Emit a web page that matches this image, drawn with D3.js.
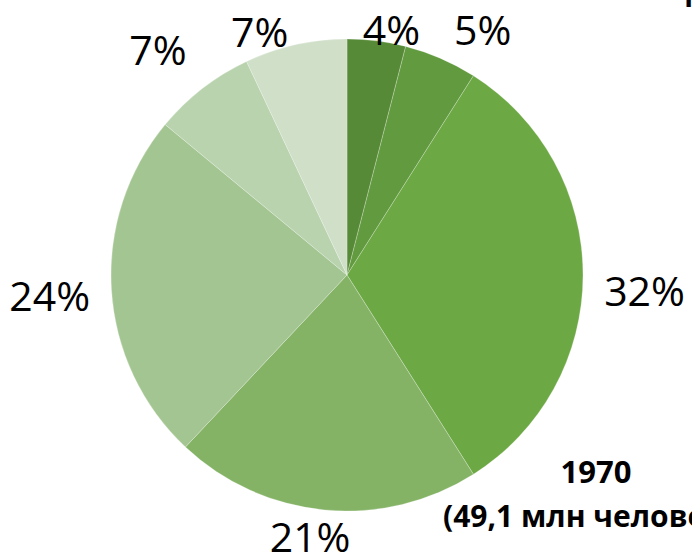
<!DOCTYPE html>
<html>
<head>
<meta charset="utf-8">
<script src="https://cdn.jsdelivr.net/npm/d3@7"></script>
<style>
  body { margin: 0; background: #fff; overflow: hidden; }
  svg { display: block; }
</style>
</head>
<body>
<svg width="692" height="559"></svg>
<script>
// shares of population by group, 1970 (clockwise from 12 o'clock)
const groups = ['g1', 'g2', 'g3', 'g4', 'g5', 'g6', 'g7'];
const shares = [4, 5, 32, 21, 24, 7, 7];
const sliceColors = ['#578a37', '#629a3f', '#6ca843', '#84b366', '#a3c591', '#b8d3ad', '#cfdfc8'];
const yearLabel = '1970';
const totalLabel = '(49,1 млн человек)';

const svg = d3.select('svg');
const width = +svg.attr('width');
const height = +svg.attr('height');

const cx = 347, cy = 275, radius = 236;

const g = svg.append('g')
  .attr('transform', `translate(${cx},${cy})`);

const data = groups.map((k, i) => ({ key: k, value: shares[i] }));

const pie = d3.pie()
  .value(d => d.value)
  .sort(null);

const arc = d3.arc()
  .innerRadius(0)
  .outerRadius(radius);

const color = d3.scaleOrdinal()
  .domain(groups)
  .range(sliceColors);

const arcs = pie(data);

//slices
g.selectAll('path.slice')
  .data(arcs)
  .enter().append('path')
  .attr('class', 'slice')
  .attr('d', arc)
  .attr('fill', d => color(d.data.key))
  .attr('stroke', 'rgba(255,255,255,0.35)')
  .attr('stroke-width', 0.7);

//label placement, excel "best fit" style: distance from centre and nudge (deg) off the mid angle
const labelDist = [249, 280, 298, 265, 298, 294, 258];
const labelNudge = [3.1, 5.6, 3.2, 2.6, -0.4, -2.2, -7.2];

g.selectAll('text.pct')
  .data(arcs)
  .enter().append('text')
  .attr('class', 'pct')
  .attr('x', (d, i) => {
    const a = (d.startAngle + d.endAngle) / 2 + labelNudge[i] * Math.PI / 180;
    return Math.sin(a) * labelDist[i];
  })
  .attr('y', (d, i) => {
    const a = (d.startAngle + d.endAngle) / 2 + labelNudge[i] * Math.PI / 180;
    return -Math.cos(a) * labelDist[i];
  })
  .attr('dy', '0.36em')
  .attr('text-anchor', 'middle')
  .style('font-family', '"Open Sans", sans-serif')
  .style('font-size', '41px')
  .style('fill', '#000')
  .text(d => d.data.value + '%');

//year caption, bottom right (runs off the slide edge like the original)
svg.append('text')
  .attr('x', 596)
  .attr('y', 483)
  .attr('text-anchor', 'middle')
  .style('font-family', '"Open Sans", sans-serif')
  .style('font-weight', 'bold')
  .style('font-size', '31px')
  .text(yearLabel);

svg.append('text')
  .attr('x', 443)
  .attr('y', 527)
  .style('font-family', '"Open Sans", sans-serif')
  .style('font-weight', 'bold')
  .style('font-size', '30px')
  .text(totalLabel);

//bit of the slide title cut off at the top right
svg.append('text')
  .attr('x', 684)
  .attr('y', 7)
  .style('font-family', '"Open Sans", sans-serif')
  .style('font-weight', 'bold')
  .style('font-size', '28px')
  .text('Р');
</script>
</body>
</html>
